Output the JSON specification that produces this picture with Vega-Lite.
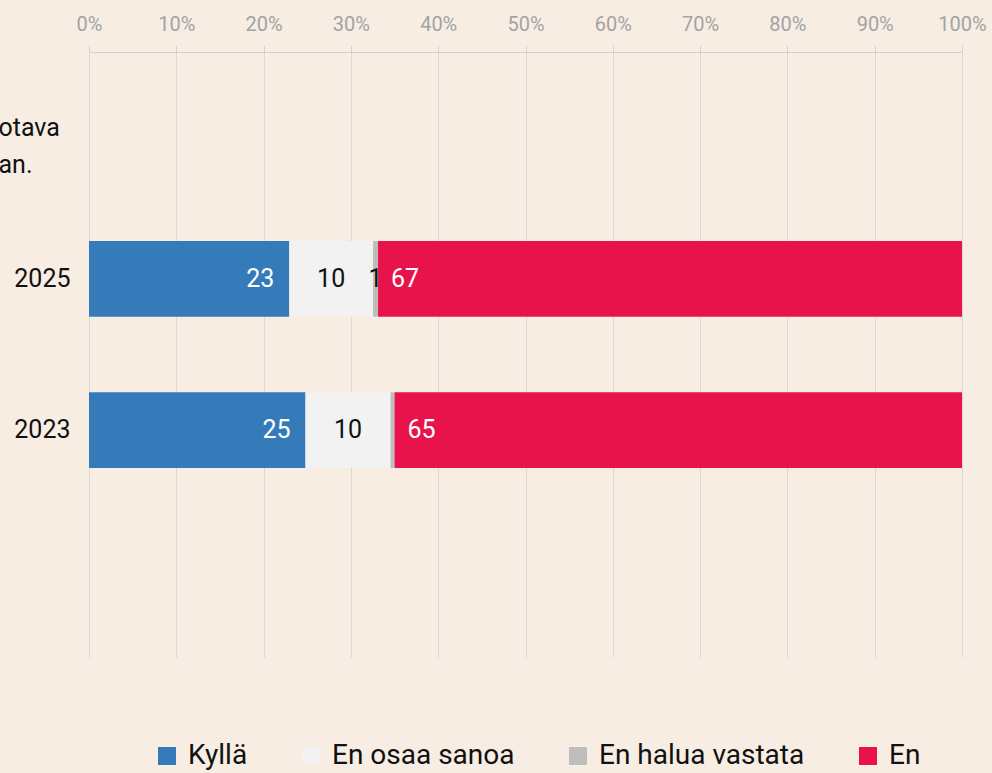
{
  "$schema": "https://vega.github.io/schema/vega-lite/v6.json",
  "width": 873,
  "height": 605,
  "autosize": {"type": "none"},
  "padding": {"left": 89, "top": 52, "right": 30, "bottom": 116},
  "background": "#f7ede3",
  "config": {
    "view": {"stroke": null},
    "font": "Roboto"
  },
  "data": {
    "values": [
      {"year": "2025", "cat": "Kyllä", "order": 1, "value": 22.94, "label": "23"},
      {"year": "2025", "cat": "En osaa sanoa", "order": 2, "value": 9.6, "label": "10"},
      {"year": "2025", "cat": "En halua vastata", "order": 3, "value": 0.57, "label": "1"},
      {"year": "2025", "cat": "En", "order": 4, "value": 66.89, "label": "67"},
      {"year": "2023", "cat": "Kyllä", "order": 1, "value": 24.8, "label": "25"},
      {"year": "2023", "cat": "En osaa sanoa", "order": 2, "value": 9.74, "label": "10"},
      {"year": "2023", "cat": "En halua vastata", "order": 3, "value": 0.46, "label": ""},
      {"year": "2023", "cat": "En", "order": 4, "value": 65.0, "label": "65"}
    ]
  },
  "transform": [
    {"stack": "value", "groupby": ["year"], "sort": [{"field": "order", "order": "ascending"}], "as": ["x0", "x1"]},
    {"calculate": "(datum.x0 + datum.x1) / 2", "as": "mid"}
  ],
  "encoding": {
    "y": {
      "field": "year",
      "type": "nominal",
      "scale": {"domain": ["q", "2025", "2023", "z"], "paddingInner": 0.5, "paddingOuter": 0.25},
      "axis": {
        "title": null,
        "domain": false,
        "ticks": false,
        "grid": false,
        "labelFontSize": 25,
        "labelColor": "#111111",
        "labelPadding": {"condition": {"test": "datum.value == 'q'", "value": 91}, "value": 19},
        "labelLineHeight": 37,
        "labelExpr": "datum.value == 'q' ? ['otava', 'an.'] : (datum.value == 'z' ? '' : datum.value)",
        "labelAlign": {"condition": {"test": "datum.value == 'q'", "value": "left"}, "value": "right"}
      }
    }
  },
  "layer": [
    {
      "mark": {"type": "bar"},
      "encoding": {
        "x": {
          "field": "x0",
          "type": "quantitative",
          "scale": {"domain": [0, 100], "nice": false},
          "axis": {
            "orient": "top",
            "title": null,
            "values": [0, 10, 20, 30, 40, 50, 60, 70, 80, 90, 100],
            "labelExpr": "datum.value + '%'",
            "labelFontSize": 20,
            "labelColor": "#a3a3a3",
            "labelPadding": 11,
            "labelFlush": false,
            "domainColor": "#d2d0cc",
            "tickColor": "#d2d0cc",
            "tickSize": 7,
            "grid": true,
            "gridColor": "#dcd7d1"
          }
        },
        "x2": {"field": "x1"},
        "color": {
          "field": "cat",
          "type": "nominal",
          "scale": {
            "domain": ["Kyllä", "En osaa sanoa", "En halua vastata", "En"],
            "range": ["#367bb9", "#f2f2f2", "#bdbdbd", "#e9134c"]
          },
          "legend": {
            "title": null,
            "orient": "none",
            "legendX": 64,
            "legendY": 690,
            "direction": "horizontal",
            "symbolType": "square",
            "symbolSize": 324,
            "symbolStrokeWidth": 0,
            "symbolOpacity": 1,
            "labelFontSize": 28,
            "labelColor": "#111111",
            "labelOffset": 7,
            "labelLimit": 400,
            "columnPadding": 49
          }
        }
      }
    },
    {
      "transform": [{"filter": "datum.cat == 'Kyllä'"}],
      "mark": {"type": "text", "align": "right", "baseline": "middle", "dx": -15, "fontSize": 25, "color": "#ffffff"},
      "encoding": {"x": {"field": "x1", "type": "quantitative"}, "text": {"field": "label"}}
    },
    {
      "transform": [{"filter": "datum.cat == 'En osaa sanoa' || datum.cat == 'En halua vastata'"}],
      "mark": {"type": "text", "align": "center", "baseline": "middle", "fontSize": 25, "color": "#111111"},
      "encoding": {"x": {"field": "mid", "type": "quantitative"}, "text": {"field": "label"}}
    },
    {
      "transform": [{"filter": "datum.cat == 'En'"}],
      "mark": {"type": "text", "align": "left", "baseline": "middle", "dx": 13, "fontSize": 25, "color": "#ffffff"},
      "encoding": {"x": {"field": "x0", "type": "quantitative"}, "text": {"field": "label"}}
    }
  ]
}
